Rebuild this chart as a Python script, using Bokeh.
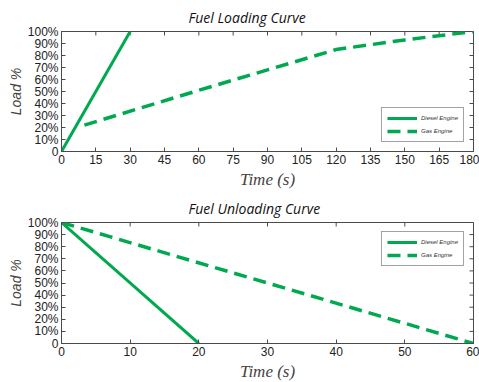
import math
from bokeh.plotting import figure
from bokeh.layouts import column
from bokeh.models import FixedTicker, Range1d, Legend, LegendItem
from bokeh.embed import file_html
from bokeh.resources import INLINE

# Loading data
load_diesel_t = [0, 30]
load_diesel_y = [0, 100]
load_gas_t = [10, 60, 90, 120, 150, 180]
load_gas_y = [22, 51, 68, 85, 93, 100]

# Unloading data
unload_diesel_t = [0, 20]
unload_diesel_y = [100, 0]
unload_gas_t = [0, 60]
unload_gas_y = [100, 0]

load_xticks = [0, 15, 30, 45, 60, 75, 90, 105, 120, 135, 150, 165, 180]
unload_xticks = [0, 10, 20, 30, 40, 50, 60]
yticks = [0, 10, 20, 30, 40, 50, 60, 70, 80, 90, 100]
ytick_labels = ["0", "10%", "20%", "30%", "40%", "50%", "60%", "70%", "80%", "90%", "100%"]

GREEN = "#00A94F"
AX = "#4a4a4a"


def make(title, xmax, xticks, top, bottom):
    p = figure(width=479, height=top + bottom + 127, output_backend="svg",
               toolbar_location=None, title=title,
               x_range=Range1d(0, xmax), y_range=Range1d(0, 100),
               min_border_left=61, min_border_right=6,
               min_border_top=top, min_border_bottom=bottom)
    p.title.text_font = "Open Sans"
    p.title.text_font_style = "italic"
    p.title.text_font_size = "14px"
    p.title.align = "left"
    p.title.offset = 127
    p.title.text_color = "#111111"
    p.grid.visible = False
    p.outline_line_color = AX
    p.outline_line_alpha = 1
    p.background_fill_color = "white"

    xa = p.xaxis[0]
    xa.ticker = FixedTicker(ticks=xticks)
    xa.axis_label = "Time (s)"
    xa.axis_label_text_font = "Liberation Serif"
    xa.axis_label_text_font_style = "italic"
    xa.axis_label_text_font_size = "17px"
    xa.axis_label_standoff = 3
    ya = p.yaxis[0]
    ya.ticker = FixedTicker(ticks=yticks)
    ya.major_label_overrides = {t: l for t, l in zip(yticks, ytick_labels)}
    ya.axis_label = "Load %"
    ya.axis_label_text_font = "Liberation Sans"
    ya.axis_label_text_font_style = "italic"
    ya.axis_label_text_font_size = "14px"
    ya.axis_label_standoff = 1
    for a in (xa, ya):
        a.major_tick_in = 4
        a.major_tick_out = 0
        a.minor_tick_line_color = None
        a.axis_line_color = AX
        a.major_tick_line_color = AX
        a.major_label_text_font = "Liberation Sans"
        a.major_label_text_font_size = "12px"
        a.major_label_text_color = "#222222"
        a.major_label_standoff = 3

    # inward ticks on the right and top edges of the box
    p.ray(x=[xmax] * len(yticks), y=yticks, length=4, length_units="screen",
          angle=math.pi, line_color=AX, line_width=1)
    p.ray(x=xticks, y=[100] * len(xticks), length=4, length_units="screen",
          angle=-math.pi / 2, line_color=AX, line_width=1)
    return p


p1 = make("Fuel Loading Curve", 180, load_xticks, 29, 35)
r1 = p1.line(load_diesel_t, load_diesel_y, line_color=GREEN, line_width=3)
r2 = p1.line(load_gas_t, load_gas_y, line_color=GREEN, line_width=3.5, line_dash="13 7")

p2 = make("Fuel Unloading Curve", 60, unload_xticks, 28, 37)
r3 = p2.line(unload_diesel_t, unload_diesel_y, line_color=GREEN, line_width=3)
r4 = p2.line(unload_gas_t, unload_gas_y, line_color=GREEN, line_width=3.5, line_dash="13 7")

for p, a, b, loc in ((p1, r1, r2, "bottom_right"), (p2, r3, r4, "top_right")):
    lg = Legend(items=[LegendItem(label="Diesel Engine", renderers=[a]),
                       LegendItem(label="Gas Engine", renderers=[b])],
                location=loc)
    lg.label_text_font = "Liberation Sans"
    lg.label_text_font_style = "italic"
    lg.label_text_font_size = "6px"
    lg.label_text_color = "#333333"
    lg.label_height = 10
    lg.glyph_height = 10
    lg.glyph_width = 30
    lg.label_standoff = 4
    lg.padding = 5
    lg.spacing = 3
    lg.margin = 9
    lg.border_line_color = "#444444"
    lg.border_line_width = 1
    lg.background_fill_alpha = 1
    p.add_layout(lg, "center")

layout = column(p1, p2, spacing=0)
open("out.html", "w").write(file_html(layout, INLINE))
